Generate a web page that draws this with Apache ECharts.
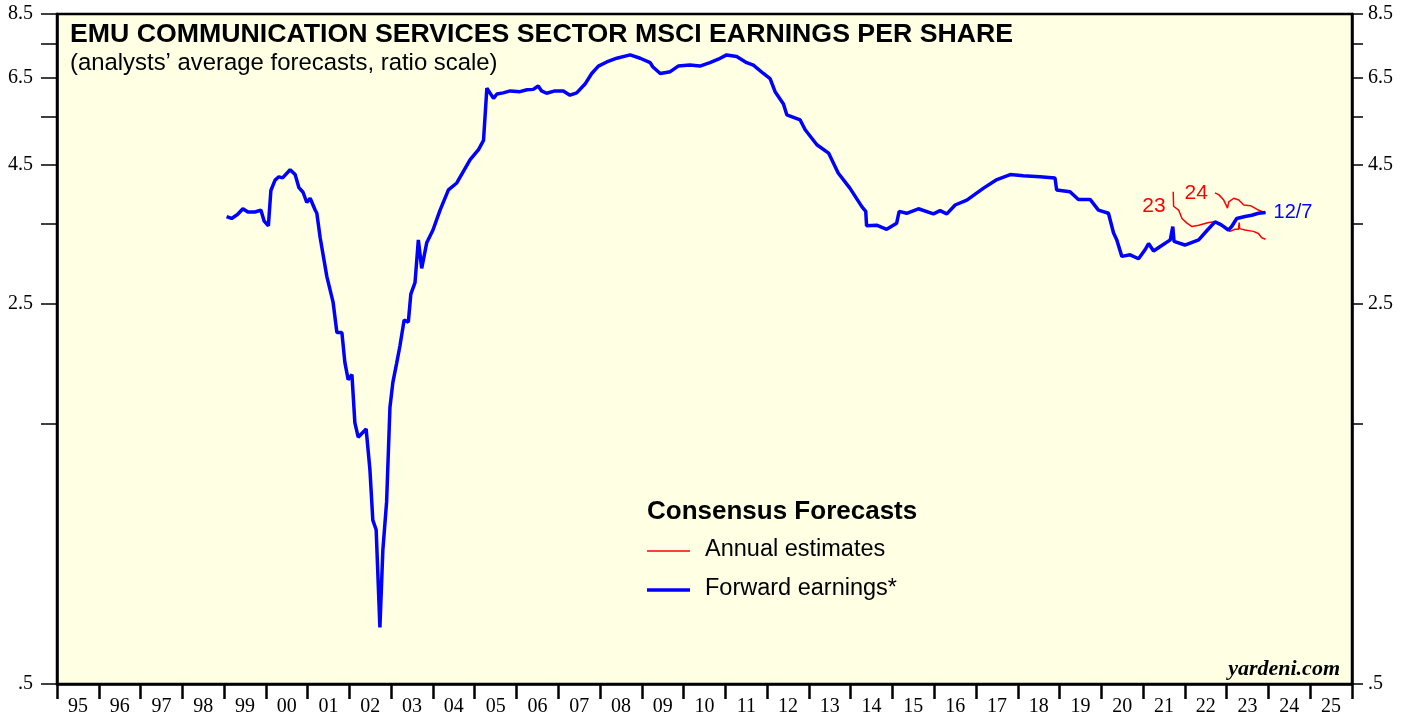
<!DOCTYPE html>
<html>
<head>
<meta charset="utf-8">
<title>EMU Communication Services Sector MSCI Earnings Per Share</title>
<script src="https://cdn.jsdelivr.net/npm/echarts@6.0.0/dist/echarts.min.js"></script>
<style>
    html, body { margin: 0; padding: 0; background: #fff; }
    #eps-chart { width: 1417px; height: 717px; }
</style>
</head>
<body>
<div id="eps-chart"></div>
<script>
// Year labels along the bottom (centred between yearly ticks)
var yearLabels = ['95', '96', '97', '98', '99', '00', '01', '02', '03', '04', '05', '06', '07', '08', '09',
    '10', '11', '12', '13', '14', '15', '16', '17', '18', '19', '20', '21', '22', '23', '24', '25'];

// Ratio scale ticks
var yTickValues = [0.5, 1.5, 2.5, 3.5, 4.5, 5.5, 6.5, 7.5, 8.5];
var yLabelValues = [0.5, 2.5, 4.5, 6.5, 8.5];

// Forward earnings (weekly)
var fwdDates = [
    1999.06, 1999.18, 1999.32, 1999.45, 1999.57, 1999.74, 1999.88, 1999.96, 2000.06, 2000.12,
    2000.22, 2000.31, 2000.40, 2000.58, 2000.70, 2000.79, 2000.89, 2000.98, 2001.06, 2001.18,
    2001.22, 2001.30, 2001.46, 2001.61, 2001.70, 2001.82, 2001.89, 2001.97, 2002.06, 2002.13,
    2002.21, 2002.40, 2002.49, 2002.56, 2002.64, 2002.73, 2002.80, 2002.89, 2002.97, 2003.04,
    2003.13, 2003.21, 2003.31, 2003.41, 2003.47, 2003.57, 2003.65, 2003.73, 2003.85, 2004.00,
    2004.17, 2004.37, 2004.57, 2004.89, 2005.09, 2005.21, 2005.25, 2005.29, 2005.45, 2005.53,
    2005.68, 2005.85, 2006.08, 2006.25, 2006.40, 2006.52, 2006.60, 2006.72, 2006.92, 2007.12,
    2007.28, 2007.44, 2007.64, 2007.80, 2007.96, 2008.16, 2008.40, 2008.72, 2008.96, 2009.20,
    2009.26, 2009.44, 2009.68, 2009.87, 2010.15, 2010.39, 2010.63, 2010.83, 2011.03, 2011.27,
    2011.51, 2011.67, 2011.91, 2012.07, 2012.19, 2012.39, 2012.47, 2012.79, 2012.91, 2013.19,
    2013.47, 2013.70, 2013.98, 2014.27, 2014.36, 2014.38, 2014.62, 2014.86, 2015.10, 2015.16,
    2015.34, 2015.62, 2015.98, 2016.14, 2016.30, 2016.50, 2016.78, 2017.18, 2017.50, 2017.82,
    2018.13, 2018.53, 2018.89, 2018.93, 2019.25, 2019.45, 2019.73, 2019.93, 2020.17, 2020.29,
    2020.37, 2020.49, 2020.69, 2020.89, 2021.05, 2021.13, 2021.25, 2021.41, 2021.65, 2021.71,
    2021.74, 2022.00, 2022.33, 2022.54, 2022.72, 2022.88, 2023.04, 2023.12, 2023.24, 2023.44,
    2023.60, 2023.76, 2023.93
];
var fwdValues = [
    3.61, 3.58, 3.64, 3.73, 3.68, 3.68, 3.71, 3.54, 3.47, 4.03,
    4.21, 4.27, 4.25, 4.40, 4.31, 4.08, 4.00, 3.83, 3.90, 3.71,
    3.66, 3.30, 2.80, 2.51, 2.21, 2.21, 1.95, 1.81, 1.85, 1.51,
    1.42, 1.47, 1.24, 1.00, 0.96, 0.635, 0.88, 1.08, 1.61, 1.79,
    1.94, 2.09, 2.33, 2.31, 2.60, 2.73, 3.27, 2.90, 3.23, 3.41,
    3.71, 4.04, 4.16, 4.59, 4.79, 4.98, 4.99, 6.21, 5.95, 6.06,
    6.09, 6.14, 6.12, 6.17, 6.18, 6.27, 6.14, 6.08, 6.14, 6.14,
    6.03, 6.09, 6.32, 6.61, 6.82, 6.94, 7.05, 7.15, 7.05, 6.92,
    6.80, 6.61, 6.66, 6.82, 6.85, 6.82, 6.92, 7.02, 7.15, 7.10,
    6.92, 6.85, 6.61, 6.47, 6.12, 5.81, 5.55, 5.43, 5.21, 4.89,
    4.72, 4.34, 4.07, 3.76, 3.69, 3.47, 3.48, 3.42, 3.51, 3.69,
    3.66, 3.73, 3.65, 3.70, 3.65, 3.79, 3.87, 4.07, 4.22, 4.31,
    4.29, 4.27, 4.25, 4.04, 4.01, 3.88, 3.88, 3.71, 3.66, 3.37,
    3.27, 3.05, 3.07, 3.02, 3.14, 3.22, 3.12, 3.18, 3.27, 3.46,
    3.25, 3.20, 3.27, 3.41, 3.53, 3.48, 3.41, 3.46, 3.58, 3.61,
    3.63, 3.66, 3.67
];

// Annual estimates for 2023
var est23Dates = [
    2021.72, 2021.73, 2021.85, 2021.93, 2022.05, 2022.17, 2022.33, 2022.57, 2022.72, 2022.84,
    2022.96, 2023.08, 2023.20, 2023.28, 2023.30, 2023.31, 2023.44, 2023.64, 2023.76, 2023.84,
    2023.93
];
var est23Values = [
    4.01, 3.77, 3.71, 3.58, 3.51, 3.46, 3.48, 3.52, 3.53, 3.51,
    3.44, 3.39, 3.42, 3.42, 3.52, 3.43, 3.41, 3.39, 3.36, 3.30,
    3.28
];

// Annual estimates for 2024
var est24Dates = [2022.72, 2022.81, 2022.93, 2023.02, 2023.05, 2023.17, 2023.29, 2023.41, 2023.57, 2023.76, 2023.93];
var est24Values = [3.99, 3.96, 3.87, 3.74, 3.84, 3.90, 3.87, 3.79, 3.78, 3.71, 3.66];

var sansFont = '"Liberation Sans", Arial, sans-serif';
var serifFont = '"Liberation Serif", "Times New Roman", serif';
var blue = '#0000ff';
var red = '#ff0000';

// Ratio scale: values are plotted on the log of EPS
function toSeries(dates, values) {
    return dates.map(function (d, i) {
        return [d, Math.log(values[i])];
    });
}

function ratioLabel(v) {
    var x = Math.round(Math.exp(v) * 10) / 10;
    return x < 1 ? String(x).replace(/^0/, '') : x.toFixed(1);
}

function makeYAxis(position, tickLen, margin) {
    return {
        type: 'value',
        position: position,
        min: Math.log(0.5),
        max: Math.log(8.5),
        axisLine: { show: true, lineStyle: { color: '#000', width: 2.5 } },
        axisTick: {
            show: true,
            length: tickLen,
            customValues: yTickValues.map(Math.log),
            lineStyle: { color: '#000', width: 1.5 }
        },
        axisLabel: {
            show: true,
            margin: margin,
            customValues: yLabelValues.map(Math.log),
            formatter: ratioLabel,
            color: '#000',
            fontFamily: serifFont,
            fontSize: 20
        },
        splitLine: { show: false }
    };
}

var chart = echarts.init(document.getElementById('eps-chart'));

var option = {
    animation: false,
    backgroundColor: '#ffffff',
    title: {
        text: 'EMU COMMUNICATION SERVICES SECTOR MSCI EARNINGS PER SHARE',
        subtext: '(analysts\u2019 average forecasts, ratio scale)',
        left: 70,
        top: 21,
        itemGap: 3,
        padding: 0,
        textStyle: { fontFamily: sansFont, fontWeight: 'bold', fontSize: 26.7, color: '#000' },
        subtextStyle: { fontFamily: sansFont, fontSize: 23.9, color: '#000' }
    },
    grid: {
        left: 57,
        right: 65,
        top: 14,
        bottom: 33,
        show: true,
        backgroundColor: '#ffffe4',
        borderColor: '#000',
        borderWidth: 2.5
    },
    xAxis: [
        {
            type: 'category',
            data: yearLabels,
            boundaryGap: true,
            position: 'bottom',
            axisLine: { show: true, onZero: false, lineStyle: { color: '#000', width: 2.5 } },
            axisTick: { show: true, interval: 0, length: 15, lineStyle: { color: '#000', width: 2.5 } },
            axisLabel: { interval: 0, margin: 13, color: '#000', fontFamily: serifFont, fontSize: 20 },
            splitLine: { show: false }
        },
        {
            type: 'value',
            min: 1995,
            max: 2026,
            show: false
        }
    ],
    yAxis: [makeYAxis('left', 16, 24), makeYAxis('right', 11, 16)],
    series: [
        {
            name: 'Annual estimates',
            type: 'line',
            xAxisIndex: 1,
            yAxisIndex: 0,
            symbol: 'none',
            showSymbol: false,
            lineStyle: { color: red, width: 1.5 },
            data: toSeries(est23Dates, est23Values),
            markPoint: {
                symbol: 'circle',
                symbolSize: 0,
                silent: true,
                label: { show: true, position: 'left', distance: 8, color: red, fontFamily: sansFont, fontSize: 21 },
                data: [{ coord: [est23Dates[1], Math.log(est23Values[1])], label: { formatter: '23' } }]
            }
        },
        {
            name: 'Annual estimates',
            type: 'line',
            xAxisIndex: 1,
            yAxisIndex: 0,
            symbol: 'none',
            showSymbol: false,
            lineStyle: { color: red, width: 1.5 },
            data: toSeries(est24Dates, est24Values),
            markPoint: {
                symbol: 'circle',
                symbolSize: 0,
                silent: true,
                label: { show: true, position: 'left', distance: 7, color: red, fontFamily: sansFont, fontSize: 21 },
                data: [{ coord: [est24Dates[0], Math.log(est24Values[0])], label: { formatter: '24' } }]
            }
        },
        {
            name: 'Forward earnings*',
            type: 'line',
            xAxisIndex: 1,
            yAxisIndex: 0,
            symbol: 'none',
            showSymbol: false,
            z: 3,
            lineStyle: { color: blue, width: 3.5 },
            data: toSeries(fwdDates, fwdValues),
            endLabel: {
                show: true,
                formatter: '12/7',
                distance: 8,
                color: blue,
                fontFamily: sansFont,
                fontSize: 20
            }
        }
    ],
    graphic: [
        // Legend block
        {
            type: 'text', left: 647, top: 499,
            style: { text: 'Consensus Forecasts', fill: '#000', font: 'bold 26px ' + sansFont }
        },
        {
            type: 'line',
            shape: { x1: 647, y1: 551, x2: 690, y2: 551 },
            style: { stroke: red, lineWidth: 1.5 }
        },
        {
            type: 'text', left: 705, top: 538,
            style: { text: 'Annual estimates', fill: '#000', font: '23.5px ' + sansFont }
        },
        {
            type: 'line',
            shape: { x1: 647, y1: 590, x2: 690, y2: 590 },
            style: { stroke: blue, lineWidth: 3.5 }
        },
        {
            type: 'text', left: 705, top: 577,
            style: { text: 'Forward earnings*', fill: '#000', font: '23.5px ' + sansFont }
        },
        // Source tag
        {
            type: 'text', right: 77, top: 658,
            style: { text: 'yardeni.com', fill: '#000', font: 'italic bold 22px ' + serifFont }
        }
    ]
};

chart.setOption(option);
</script>
</body>
</html>
